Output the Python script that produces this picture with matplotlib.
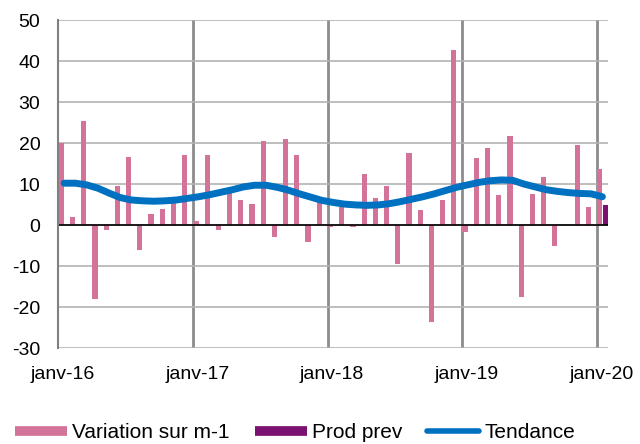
import numpy as np
import matplotlib
matplotlib.use("Agg")
import matplotlib.pyplot as plt
from matplotlib.lines import Line2D

plt.rcParams['font.family'] = ['Liberation Sans', 'DejaVu Sans']
plt.rcParams['axes.unicode_minus'] = False

# mois de janv-16 a janv-20 (49 mois)
variation = [20.0, 2.0, 25.4, -18.0, -1.1, 9.6, 16.7, -6.0, 2.6, 3.9, 5.4, 17.1,
             1.0, 17.0, -1.3, 7.8, 6.0, 5.1, 20.5, -2.9, 21.1, 17.1, -4.1, 5.6,
             -0.5, 4.5, -0.5, 12.4, 6.7, 9.5, -9.5, 17.6, 3.6, -23.7, 6.1, 42.7,
             -1.7, 16.4, 18.9, 7.3, 21.8, -17.6, 7.6, 11.7, -5.1, 0.0, 19.5, 4.5,
             13.6]
prod_prev = [0.0] * 48 + [4.9]
tendance = [10.2, 10.2, 9.8, 9.0, 7.8, 6.7, 6.1, 5.9, 5.8, 5.9, 6.1, 6.5,
            6.9, 7.4, 8.0, 8.6, 9.3, 9.7, 9.7, 9.2, 8.5, 7.6, 6.8, 6.0,
            5.5, 5.1, 4.9, 4.8, 4.9, 5.2, 5.7, 6.3, 6.9, 7.6, 8.4, 9.2,
            9.8, 10.4, 10.8, 11.0, 10.9, 10.0, 9.3, 8.6, 8.2, 7.9, 7.7, 7.6,
            6.9]
tick_labels = ['janv-16', 'janv-17', 'janv-18', 'janv-19', 'janv-20']

rose = '#D4739A'
violet = '#7B1170'
bleu = '#0070C0'

mois = np.arange(len(variation))

fig = plt.figure(figsize=(6.4, 4.44), dpi=100)
ax = fig.add_axes([0.0914, 0.2162, 0.8586, 0.7387])

ax.bar(mois + 0.02, variation, width=0.47, align='edge', color=rose, zorder=2)
ax.bar(mois + 0.52, prod_prev, width=0.47, align='edge', color=violet, zorder=2)
ax.plot(mois + 0.5, tendance, color=bleu, lw=5, solid_capstyle='round', zorder=3)

ax.set_xlim(0, 49)
ax.set_ylim(-30, 50)
ax.set_yticks(np.arange(-30, 51, 10))
ax.set_xticks([0.4, 12.4, 24.4, 36.4, 48.4])
ax.set_xticklabels(tick_labels)

# grille
ax.grid(axis='y', color='#b3b3b3', lw=1.2, zorder=0)
for xv in [12, 24, 36, 48]:
    ax.axvline(xv, color='#8c8c8c', lw=2, zorder=1)
ax.axhline(0, color='black', lw=1.2, zorder=2.5)

for s in ['top', 'right', 'bottom']:
    ax.spines[s].set_visible(False)
ax.spines['left'].set_color('#808080')
ax.spines['left'].set_linewidth(1.5)
ax.tick_params(axis='both', length=0, labelsize=14, colors='black')
ax.tick_params(axis='y', pad=13)
ax.tick_params(axis='x', pad=13)

handles = [Line2D([], [], color=rose, lw=7, solid_capstyle='butt'),
           Line2D([], [], color=violet, lw=7, solid_capstyle='butt'),
           Line2D([], [], color=bleu, lw=4, solid_capstyle='round')]
fig.legend(handles, ['Variation sur m-1', 'Prod prev', 'Tendance'],
           loc='center', bbox_to_anchor=(0.461, 0.025), ncol=3,
           frameon=False, fontsize=15, handlelength=2.5, handletextpad=0.25,
           columnspacing=1.2, borderpad=0, borderaxespad=0)

fig.savefig('out.png', dpi=100)
